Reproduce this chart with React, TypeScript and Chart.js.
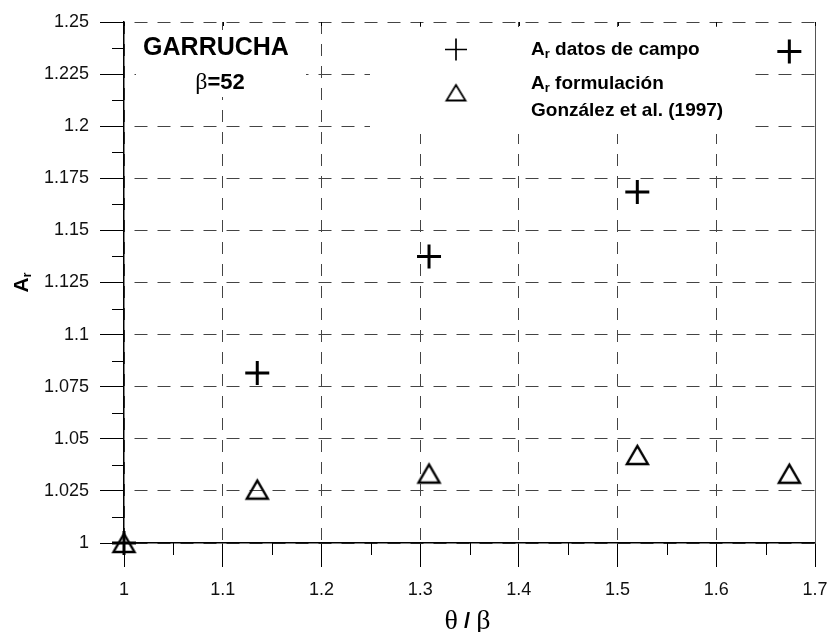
import { useEffect, useRef } from "react";
import { Chart, registerables } from "chart.js";

Chart.register(...registerables);

// θ/β for each measurement and the corresponding amplification factor A_r
const thetaOverBeta = [1, 1.135, 1.309, 1.52, 1.674];
const arField = [1, 1.0816, 1.1375, 1.1684, 1.2359];
const arFormula = [1, 1.0256, 1.0333, 1.0422, 1.0332];

const xTicks = [1, 1.1, 1.2, 1.3, 1.4, 1.5, 1.6, 1.7];
const yTicks = [1, 1.025, 1.05, 1.075, 1.1, 1.125, 1.15, 1.175, 1.2, 1.225, 1.25];
const xMinorTicks = [1.05, 1.15, 1.25, 1.35, 1.45, 1.55, 1.65];
const yMinorTicks = [1.0125, 1.0375, 1.0625, 1.0875, 1.1125, 1.1375, 1.1625, 1.1875, 1.2125, 1.2375];

const siteName = "GARRUCHA";
const betaValue = "52";
const fieldLabel = "datos de campo";
const formulaLabel = "formulación";
const formulaSource = "González et al. (1997)";

const SANS = "'Liberation Sans', Arial, Helvetica, sans-serif";
const SERIF = "'Liberation Serif', 'Times New Roman', serif";

function makeTriangle(w: number, h: number, lw: number): HTMLCanvasElement {
  const pad = Math.ceil(lw) + 1;
  const c = document.createElement("canvas");
  c.width = Math.round(w + pad * 2);
  c.height = Math.round(h + pad * 2);
  const g = c.getContext("2d")!;
  g.lineWidth = lw;
  g.strokeStyle = "#000";
  g.lineJoin = "miter";
  g.beginPath();
  g.moveTo(pad, pad + h);
  g.lineTo(pad + w, pad + h);
  g.lineTo(pad + w / 2, pad);
  g.closePath();
  g.stroke();
  return c;
}

// draws "A" with subscript "r"; returns the advance width
function drawAr(ctx: CanvasRenderingContext2D, x: number, y: number, size: number, subSize: number, subDrop: number) {
  ctx.font = `bold ${size}px ${SANS}`;
  ctx.fillText("A", x, y);
  const wA = ctx.measureText("A").width;
  ctx.font = `bold ${subSize}px ${SANS}`;
  ctx.fillText("r", x + wA, y + subDrop);
  return wA + ctx.measureText("r").width;
}

const decorations = {
  id: "decorations",
  beforeDatasetsDraw(chart: any) {
    const { ctx, chartArea } = chart;
    const xs = chart.scales.x;
    const ys = chart.scales.y;
    const { left, right, top, bottom } = chartArea;
    ctx.save();

    // label panels
    ctx.fillStyle = "#fff";
    ctx.fillRect(136, 30, 170, 67);
    ctx.fillRect(370, 27, 378, 107);

    // right frame line
    ctx.strokeStyle = "#555";
    ctx.lineWidth = 1;
    ctx.beginPath();
    ctx.moveTo(Math.round(right) + 0.5, top);
    ctx.lineTo(Math.round(right) + 0.5, bottom);
    ctx.stroke();

    // minor ticks
    ctx.strokeStyle = "#000";
    ctx.lineWidth = 1;
    ctx.beginPath();
    for (const v of xMinorTicks) {
      const px = Math.round(xs.getPixelForValue(v)) + 0.5;
      ctx.moveTo(px, bottom);
      ctx.lineTo(px, bottom + 12);
    }
    for (const v of yMinorTicks) {
      const py = Math.round(ys.getPixelForValue(v)) + 0.5;
      ctx.moveTo(left - 12, py);
      ctx.lineTo(left, py);
    }
    // inward ticks on the top frame
    for (const v of xTicks) {
      const px = Math.round(xs.getPixelForValue(v)) + 0.5;
      ctx.moveTo(px, top);
      ctx.lineTo(px, top + 4);
    }
    ctx.stroke();

    ctx.fillStyle = "#000";
    ctx.textBaseline = "alphabetic";

    // site name and beta
    ctx.font = `bold 25px ${SANS}`;
    ctx.textAlign = "center";
    ctx.fillText(siteName, 216, 55);
    ctx.textAlign = "left";
    ctx.font = `24px ${SERIF}`;
    const wBeta = ctx.measureText("β").width;
    ctx.font = `bold 22px ${SANS}`;
    const wVal = ctx.measureText("=" + betaValue).width;
    const bx = 220 - (wBeta + wVal) / 2;
    ctx.font = `24px ${SERIF}`;
    ctx.fillText("β", bx, 89);
    ctx.font = `bold 22px ${SANS}`;
    ctx.fillText("=" + betaValue, bx + wBeta, 89);

    // legend symbols
    ctx.strokeStyle = "#000";
    ctx.lineWidth = 1.7;
    ctx.beginPath();
    ctx.moveTo(445, 49.5);
    ctx.lineTo(467, 49.5);
    ctx.moveTo(456, 38.5);
    ctx.lineTo(456, 60.5);
    ctx.stroke();
    const tri = makeTriangle(19, 15.5, 1.8);
    ctx.drawImage(tri, 456 - tri.width / 2, 93 - tri.height / 2);

    // legend text
    ctx.fillStyle = "#000";
    let w = drawAr(ctx, 531, 55, 19, 13, 3);
    ctx.font = `bold 19px ${SANS}`;
    ctx.fillText(" " + fieldLabel, 531 + w, 55);
    w = drawAr(ctx, 531, 89, 19, 13, 3);
    ctx.font = `bold 19px ${SANS}`;
    ctx.fillText(" " + formulaLabel, 531 + w, 89);
    ctx.fillText(formulaSource, 531, 116);

    // x axis title: θ / β
    const cx = (left + right) / 2 - 2;
    ctx.font = `28px ${SERIF}`;
    const wTh = ctx.measureText("θ").width;
    const wB = ctx.measureText("β").width;
    ctx.font = `bold 22px ${SANS}`;
    const wSl = ctx.measureText(" / ").width;
    let tx = cx - (wTh + wSl + wB) / 2;
    ctx.font = `28px ${SERIF}`;
    ctx.fillText("θ", tx, 629);
    tx += wTh;
    ctx.font = `bold 22px ${SANS}`;
    ctx.fillText(" / ", tx, 628);
    tx += wSl;
    ctx.font = `28px ${SERIF}`;
    ctx.fillText("β", tx, 629);

    // y axis title: A_r
    ctx.save();
    ctx.translate(28, (top + bottom) / 2);
    ctx.rotate(-Math.PI / 2);
    ctx.font = `bold 21px ${SANS}`;
    const wA = ctx.measureText("A").width;
    ctx.font = `bold 13px ${SANS}`;
    const wr = ctx.measureText("r").width;
    drawAr(ctx, -(wA + wr) / 2, 0, 21, 13, 3);
    ctx.restore();

    ctx.restore();
  },
};

export default function App() {
  const canvasRef = useRef<HTMLCanvasElement | null>(null);

  useEffect(() => {
    const canvas = canvasRef.current;
    if (!canvas) return;
    const triangle = makeTriangle(21, 18, 2.4);
    const tickFont = { family: SANS, size: 18 };

    const chart = new Chart(canvas, {
      type: "scatter",
      data: {
        datasets: [
          {
            label: "A_r formulación González et al. (1997)",
            data: thetaOverBeta.map((x, i) => ({ x, y: arFormula[i] })),
            pointStyle: triangle as any,
            pointRadius: 12,
            showLine: false,
            clip: false as any,
          },
          {
            label: "A_r datos de campo",
            data: thetaOverBeta.map((x, i) => ({ x, y: arField[i] })),
            pointStyle: "cross",
            pointRadius: 12,
            pointBorderWidth: 3,
            pointBorderColor: "#000",
            pointBackgroundColor: "#000",
            showLine: false,
            clip: false as any,
          },
        ],
      },
      options: {
        animation: false,
        responsive: false,
        devicePixelRatio: 1,
        events: [],
        layout: { padding: { left: 0, right: 13, top: 22, bottom: 0 } },
        plugins: {
          legend: { display: false },
          tooltip: { enabled: false },
        },
        scales: {
          x: {
            type: "linear",
            min: 1,
            max: 1.7,
            afterBuildTicks: (s: any) => {
              s.ticks = xTicks.map((v) => ({ value: v }));
            },
            afterFit: (s: any) => {
              s.height = 89;
              s.paddingLeft = 0;
              s.paddingRight = 0;
            },
            grid: {
              color: "#444",
              lineWidth: 1,
              tickLength: 24,
              tickColor: "#000",
              tickWidth: 1,
            },
            border: { display: true, color: "#000", width: 1.5, dash: [12, 10], dashOffset: 0 },
            ticks: {
              font: tickFont,
              color: "#111",
              padding: 12,
              maxRotation: 0,
              autoSkip: false,
              callback: (v: any) => String(v),
            },
          },
          y: {
            type: "linear",
            min: 1,
            max: 1.25,
            afterBuildTicks: (s: any) => {
              s.ticks = yTicks.map((v) => ({ value: v }));
            },
            afterFit: (s: any) => {
              s.width = 124;
              s.paddingTop = 0;
              s.paddingBottom = 0;
            },
            grid: {
              color: "#444",
              lineWidth: 1,
              tickLength: 24,
              tickColor: "#000",
              tickWidth: 1,
            },
            border: { display: true, color: "#000", width: 1.5, dash: [13, 10], dashOffset: 13 },
            ticks: {
              font: tickFont,
              color: "#111",
              padding: 11,
              autoSkip: false,
              callback: (v: any) => String(v),
            },
          },
        },
      },
      plugins: [decorations],
    });

    return () => chart.destroy();
  }, []);

  return (
    <div style={{ position: "absolute", left: 0, top: 0, width: 830, height: 632, background: "#fff" }}>
      <canvas ref={canvasRef} width={830} height={632} style={{ display: "block" }} />
    </div>
  );
}
